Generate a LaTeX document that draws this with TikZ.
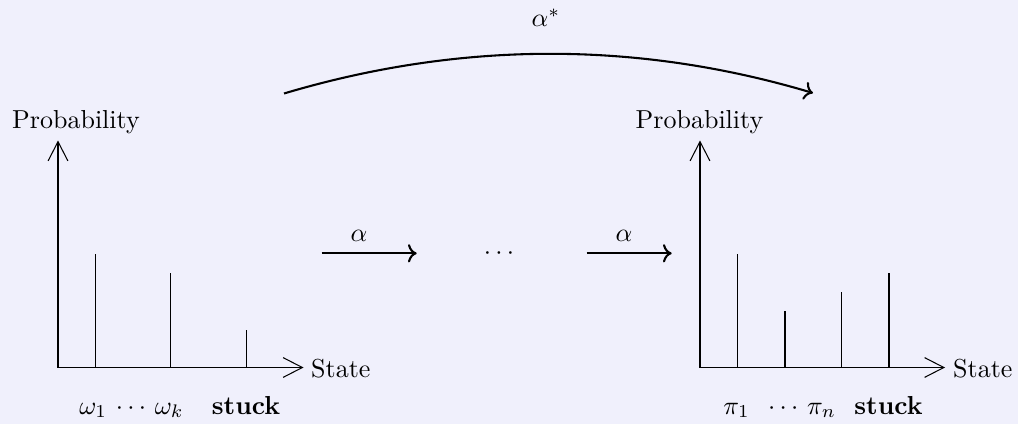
\documentclass[tikz,border=0pt]{standalone}
\usetikzlibrary{arrows.meta}
\definecolor{bg}{RGB}{240,240,252}
\begin{document}
\begin{tikzpicture}[x=0.3846pt,y=-0.3846pt,
  axis/.style={line width=0.4pt,-{Straight Barb[length=7.4pt,width=7.6pt]}},
  bar/.style={line width=0.4pt},
  trans/.style={thick,->},
  lbl/.style={inner sep=0pt,anchor=base},
  lblw/.style={inner sep=0pt,anchor=base west}]
\fill[bg] (0,0) rectangle (1018,424);
\useasboundingbox (0,0) rectangle (1018,424);
% ---------- left plot
\coordinate (O1) at (58,367.5);
\coordinate (Y1) at (58,140.5);
\coordinate (X1) at (303.5,367.5);
\draw[axis] (O1) -- (Y1);
\draw[axis] (O1) -- (X1);
\coordinate (a1) at (95.7,254.3);
\coordinate (a2) at (170.7,273.3);
\coordinate (a3) at (246.3,330);
\foreach \p in {a1,a2,a3} \draw[bar] (\p) -- (\p |- O1);
\node[lbl] (p1) at (76,129) {Probability};
\node[lblw] (s1) at (310.7,377.5) {State};
\node[lbl] (w1) at (131.5,414) {$\omega_1$ $\cdots$ $\omega_k$};
\node[lbl] (st1) at (246,414) {\textbf{stuck}};
% ---------- right plot
\coordinate (O2) at (700,367.5);
\coordinate (Y2) at (700,140.5);
\coordinate (X2) at (945,367.5);
\draw[axis] (O2) -- (Y2);
\draw[axis] (O2) -- (X2);
\coordinate (c1) at (737.7,254.3);
\coordinate (c2) at (785,311);
\coordinate (c3) at (841.7,292.3);
\coordinate (c4) at (889,273.3);
\foreach \p in {c1,c2,c3,c4} \draw[bar] (\p) -- (\p |- O2);
\node[lbl] (p2) at (699.5,129) {Probability};
\node[lblw] (s2) at (952.7,377.5) {State};
\node[lbl] (pi1) at (736.5,414) {$\pi_1$};
\node[lbl] (pin) at (802,414) {$\cdots$ $\pi_n$};
\node[lbl] (st2) at (888.5,414) {\textbf{stuck}};
% ---------- middle transitions
\coordinate (m1s) at (321.7,253.3);
\coordinate (m1e) at (416.7,253.3);
\coordinate (m2s) at (586.7,253.3);
\coordinate (m2e) at (671.7,253.3);
\draw[trans] (m1s) -- (m1e);
\draw[trans] (m2s) -- (m2e);
\node[lbl] (al1) at (359,241) {$\alpha$};
\node[lbl] (al2) at (624,241) {$\alpha$};
\node[lbl] (dots) at (499,259.8) {$\cdots$};
% ---------- top curve
\coordinate (cs) at (284,93.5);
\coordinate (ce) at (813,93);
\draw[trans] (cs) .. controls (460,41) and (637,40.5) .. (ce);
\node[lbl] (alst) at (546,27) {$\alpha^*$};
\end{tikzpicture}
\end{document}
